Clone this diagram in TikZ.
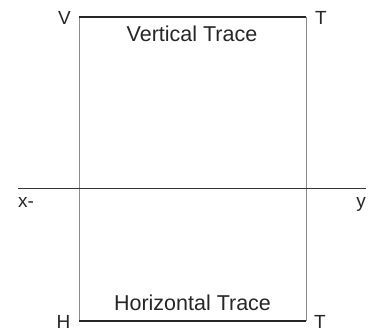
\documentclass[tikz,border=0pt]{standalone}
\usepackage{fontspec}
\setmainfont{Liberation Sans}
\begin{document}
\begin{tikzpicture}[x=1pt,y=-1pt,
  trace/.style={line width=1.3pt,draw=black!85},
  projector/.style={line width=0.5pt,draw=black!45},
  ground/.style={line width=1pt,draw=black!80},
  lbl/.style={inner sep=0pt,text=black!85,font=\fontsize{19}{22}\selectfont},
  title/.style={inner sep=0pt,text=black!85,font=\fontsize{21.5}{24}\selectfont}]
\useasboundingbox (0,0) rectangle (378,333);
\coordinate (vt1) at (79,17);
\coordinate (vt2) at (306,17);
\coordinate (ht1) at (79,321);
\coordinate (ht2) at (306,321);
\coordinate (xl) at (18,188);
\coordinate (yr) at (366,188);
\draw[projector] (vt1) -- (ht1);
\draw[projector] (vt2) -- (ht2);
\draw[ground] (xl) -- (yr);
\draw[trace] (vt1) -- (vt2);
\draw[trace] (ht1) -- (ht2);
\node[lbl] (V) at (64.5,17.5) {V};
\node[lbl] (T1) at (321,17.5) {T};
\node[lbl] (H) at (63.5,322) {H};
\node[lbl] (T2) at (320,321.5) {T};
\node[lbl,anchor=base west] (x) at (18,207) {x-};
\node[lbl,anchor=base east] (y) at (366,207) {y};
\node[title,anchor=base] (vtr) at (192,41) {Vertical Trace};
\node[title,anchor=base] (htr) at (192.5,310) {Horizontal Trace};
\end{tikzpicture}
\end{document}
